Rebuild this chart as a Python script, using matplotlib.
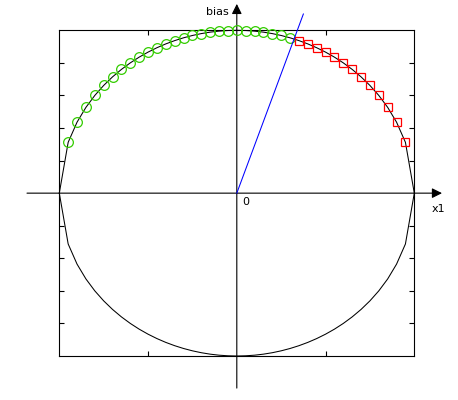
import matplotlib
matplotlib.use("Agg")
import matplotlib.pyplot as plt

# circle outline (x1, bias) sampled at 0.05 steps
curve_x = [round(-1 + 0.05 * i, 2) for i in range(41)]
upper_y = [0.0, 0.3122, 0.4359, 0.5268, 0.6, 0.6614, 0.7141, 0.7599, 0.8, 0.8352,
           0.866, 0.893, 0.9165, 0.9367, 0.9539, 0.9682, 0.9798, 0.9887, 0.995, 0.9987,
           1.0,
           0.9987, 0.995, 0.9887, 0.9798, 0.9682, 0.9539, 0.9367, 0.9165, 0.893, 0.866,
           0.8352, 0.8, 0.7599, 0.7141, 0.6614, 0.6, 0.5268, 0.4359, 0.3122, 0.0]
lower_y = [-v for v in upper_y]

# class A (green circles)
green_x = curve_x[1:27]
green_y = upper_y[1:27]
# class B (red squares)
red_x = curve_x[27:40]
red_y = upper_y[27:40]

# weight vector
w_x = [0.0, 0.375]
w_y = [0.0, 1.10]

fig = plt.figure(figsize=(4.58, 4.0), dpi=100)
ax = fig.add_axes([59.3 / 458, 44 / 400, 355 / 458, 325.7 / 400])
ax.set_xlim(-1, 1)
ax.set_ylim(-1, 1)
for s in ax.spines.values():
    s.set_linewidth(0.8)
ax.set_xticks([-0.5, 0.5])
ax.set_yticks([-0.8, -0.6, -0.4, -0.2, 0.2, 0.4, 0.6, 0.8])
ax.tick_params(direction='in', length=3.5, width=0.8, top=True, right=True,
               labelbottom=False, labelleft=False)

lw = 0.75
ax.plot(curve_x, upper_y, color='black', lw=lw, clip_on=False, zorder=3)
ax.plot(curve_x, lower_y, color='black', lw=lw, clip_on=False, zorder=3)
ax.plot(green_x, green_y, linestyle='none', marker='o', markersize=7.0,
        markerfacecolor='none', markeredgecolor='#33cc00', markeredgewidth=0.9,
        clip_on=False, zorder=4)
ax.plot(red_x, red_y, linestyle='none', marker='s', markersize=6.4,
        markerfacecolor='none', markeredgecolor='#ff0000', markeredgewidth=0.9,
        clip_on=False, zorder=4)
ax.plot(w_x, w_y, color='#0000ff', lw=lw, clip_on=False, zorder=5)

# coordinate axes with arrows
ax.annotate('', xy=(1.156, 0), xytext=(-1.182, 0), xycoords='data',
            arrowprops=dict(arrowstyle='-|>', mutation_scale=15, lw=0.8,
                            color='black', shrinkA=0, shrinkB=0),
            annotation_clip=False, zorder=2)
ax.annotate('', xy=(0, 1.162), xytext=(0, -1.197), xycoords='data',
            arrowprops=dict(arrowstyle='-|>', mutation_scale=15, lw=0.8,
                            color='black', shrinkA=0, shrinkB=0),
            annotation_clip=False, zorder=2)

ax.text(-0.045, 1.113, 'bias', ha='right', va='center', fontsize=8, clip_on=False)
ax.text(1.136, -0.098, 'x1', ha='center', va='center', fontsize=8, clip_on=False)
ax.text(0.052, -0.054, '0', ha='center', va='center', fontsize=8, clip_on=False)

fig.savefig('out.png', dpi=100)
